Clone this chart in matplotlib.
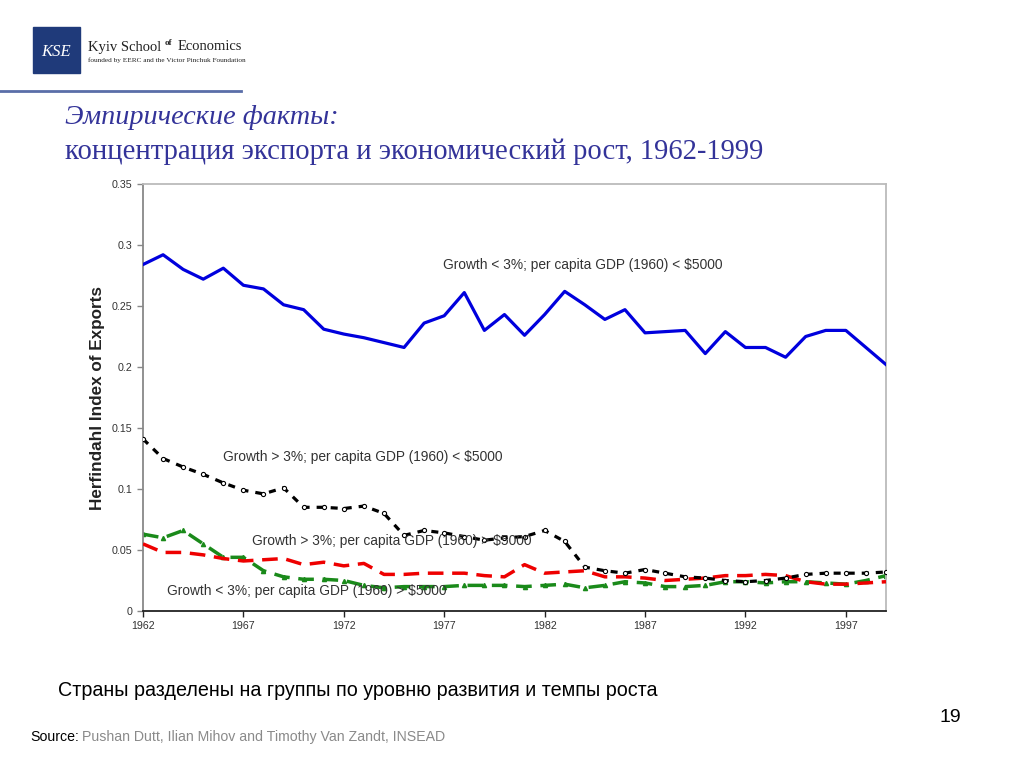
import matplotlib
matplotlib.use("Agg")
import matplotlib.pyplot as plt
from matplotlib.patches import Rectangle
from matplotlib.lines import Line2D

# ── data ──────────────────────────────────────────────────────
years = list(range(1962, 2000))

low_growth_poor = [0.284, 0.292, 0.280, 0.272, 0.281, 0.267, 0.264, 0.251, 0.247, 0.231,
                   0.227, 0.224, 0.220, 0.216, 0.236, 0.242, 0.261, 0.230, 0.243, 0.226,
                   0.243, 0.262, 0.251, 0.239, 0.247, 0.228, 0.229, 0.230, 0.211, 0.229,
                   0.216, 0.216, 0.208, 0.225, 0.230, 0.230, 0.216, 0.202]

high_growth_poor = [0.141, 0.125, 0.118, 0.112, 0.105, 0.099, 0.096, 0.101, 0.085, 0.085,
                    0.084, 0.086, 0.080, 0.062, 0.066, 0.064, 0.061, 0.058, 0.060, 0.061,
                    0.066, 0.057, 0.036, 0.033, 0.031, 0.034, 0.031, 0.028, 0.027, 0.025,
                    0.024, 0.025, 0.027, 0.030, 0.031, 0.031, 0.031, 0.032]

high_growth_rich = [0.055, 0.048, 0.048, 0.046, 0.043, 0.041, 0.042, 0.043, 0.038, 0.040,
                    0.037, 0.039, 0.030, 0.030, 0.031, 0.031, 0.031, 0.029, 0.028, 0.038,
                    0.031, 0.032, 0.033, 0.028, 0.028, 0.027, 0.025, 0.026, 0.027, 0.029,
                    0.029, 0.030, 0.029, 0.024, 0.022, 0.022, 0.023, 0.024]

low_growth_rich = [0.063, 0.060, 0.066, 0.055, 0.044, 0.044, 0.033, 0.028, 0.026, 0.026,
                   0.025, 0.021, 0.019, 0.020, 0.020, 0.020, 0.021, 0.021, 0.021, 0.020,
                   0.021, 0.022, 0.019, 0.021, 0.024, 0.023, 0.020, 0.020, 0.021, 0.024,
                   0.024, 0.023, 0.024, 0.024, 0.023, 0.022, 0.025, 0.029]

x_ticks = list(range(1962, 2000, 5))
y_ticks = [0, 0.05, 0.1, 0.15, 0.2, 0.25, 0.3, 0.35]
y_tick_labels = ["0", "0.05", "0.1", "0.15", "0.2", "0.25", "0.3", "0.35"]

labels = {
    "lp": "Growth < 3%; per capita GDP (1960) < $5000",
    "hp": "Growth > 3%; per capita GDP (1960) < $5000",
    "hr": "Growth > 3%; per capita GDP (1960) > $5000",
    "lr": "Growth < 3%; per capita GDP (1960) > $5000",
}

W, H = 1024, 768


def fx(px):
    return px / W


def fy(py):
    return 1 - py / H


fig = plt.figure(figsize=(10.24, 7.68), dpi=100)
fig.patch.set_facecolor("white")

# ── logo / header ────────────────────────────────────────────
fig.patches.append(Rectangle((fx(33), fy(73)), fx(80) - fx(33), fy(27) - fy(73),
                             transform=fig.transFigure, color="#1f3a7a", zorder=1))
fig.text(fx(56), fy(52), "KSE", transform=fig.transFigure, color="white",
         fontsize=12, style="italic", family="Liberation Serif", ha="center", va="center")
fig.text(fx(88), fy(47), "Kyiv School", family="Liberation Serif", fontsize=10.5,
         va="center", color="#222222")
fig.text(fx(168), fy(43), "of", family="Liberation Serif", fontsize=6.5,
         va="center", ha="center", color="#222222", weight="bold")
fig.text(fx(242), fy(47), "Economics", family="Liberation Serif", fontsize=10.5,
         va="center", ha="right", color="#222222")
fig.text(fx(88), fy(60), "founded by EERC and the Victor Pinchuk Foundation",
         family="Liberation Serif", fontsize=5.2, va="center", color="#222222")
fig.add_artist(Line2D([0, fx(241)], [fy(91), fy(91)], transform=fig.transFigure,
                      color="#5a6ea8", linewidth=2))

title_color = "#333399"
fig.text(fx(65), fy(118), "Эмпирические факты:", family="Liberation Serif",
         style="italic", fontsize=20.3, color=title_color, va="center")
fig.text(fx(65), fy(152), "концентрация экспорта и экономический рост, 1962-1999",
         family="Liberation Serif", fontsize=20.6, color=title_color, va="center")

# ── chart ────────────────────────────────────────────────────
ax = fig.add_axes([fx(143), fy(611), fx(886) - fx(143), fy(184) - fy(611)])

ax.plot(years, low_growth_poor, color="#0000dd", linewidth=2.3,
        solid_joinstyle="round", zorder=3)
ax.plot(years, high_growth_poor, color="black", linewidth=2.3,
        linestyle=(0, (2.2, 2.2)), marker="o", markersize=3,
        markerfacecolor="white", markeredgecolor="black", markeredgewidth=0.8, zorder=4)
ax.plot(years, high_growth_rich, color="#ee0000", linewidth=2.5,
        linestyle=(0, (4.5, 2.5)), zorder=3)
ax.plot(years, low_growth_rich, color="#1a8a1a", linewidth=2.5,
        linestyle=(0, (4.5, 2.5)), marker="^", markersize=3,
        markerfacecolor="#1a8a1a", markeredgecolor="#1a8a1a", zorder=2)

ax.set_xlim(1962, 1999)
ax.set_ylim(0, 0.35)
ax.set_xticks(x_ticks)
ax.set_xticklabels([str(y) for y in x_ticks])
ax.set_yticks(y_ticks)
ax.set_yticklabels(y_tick_labels)
ax.tick_params(axis="both", direction="out", length=4, labelsize=7.7,
               labelcolor="#333333", width=1)
ax.tick_params(axis="y", color="#888888")
ax.tick_params(axis="x", color="#222222")
for lab in ax.get_xticklabels() + ax.get_yticklabels():
    lab.set_family("Liberation Sans")

ax.spines["left"].set_color("#888888")
ax.spines["left"].set_linewidth(1.3)
ax.spines["bottom"].set_color("#222222")
ax.spines["bottom"].set_linewidth(1.3)
ax.spines["top"].set_color("#bbbbbb")
ax.spines["right"].set_color("#bbbbbb")
ax.spines["top"].set_linewidth(1.3)
ax.spines["right"].set_linewidth(1.3)

ax.set_ylabel("Herfindahl Index of Exports", family="Liberation Sans",
              fontsize=12.3, weight="bold", color="#222222", labelpad=5)

note_kw = dict(family="Liberation Sans", fontsize=9.9, color="#333333",
               transform=fig.transFigure, va="center", zorder=5)
fig.text(fx(443), fy(265), labels["lp"], **note_kw)
fig.text(fx(223), fy(457), labels["hp"], **note_kw)
fig.text(fx(252), fy(541), labels["hr"], **note_kw)
fig.text(fx(167), fy(591), labels["lr"], **note_kw)

# ── footer ───────────────────────────────────────────────────
fig.text(fx(58), fy(690), "Страны разделены на группы по уровню развития и темпы роста",
         family="Liberation Sans", fontsize=14.2, color="black", va="center")
fig.text(fx(950), fy(718), "19", family="Liberation Sans", fontsize=14,
         color="black", va="center", ha="center")
fig.text(fx(30), fy(737), "Source:", family="Liberation Sans", fontsize=10.2,
         color="black", va="center")
fig.text(fx(82), fy(737), "Pushan Dutt, Ilian Mihov and Timothy Van Zandt, INSEAD",
         family="Liberation Sans", fontsize=10.2, color="#8a8a8a", va="center")

fig.savefig("out.png", dpi=100)
